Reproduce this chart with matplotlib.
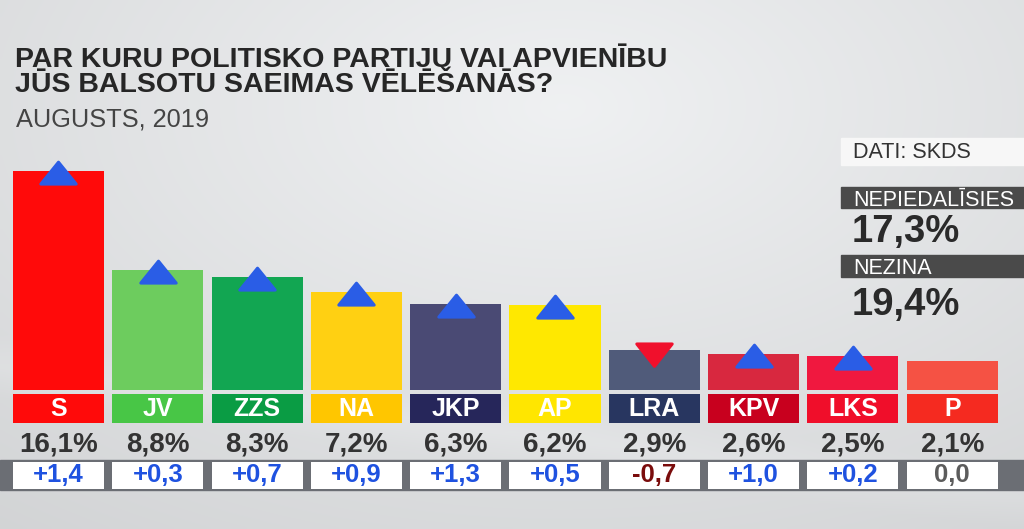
import numpy as np
import matplotlib

matplotlib.use("Agg")
import matplotlib.pyplot as plt
from matplotlib.path import Path
from matplotlib.markers import MarkerStyle

plt.rcParams["font.family"] = ["Liberation Sans", "DejaVu Sans"]

# ---------------------------------------------------------------------------
# Data (SKDS, August 2019)
# ---------------------------------------------------------------------------
parties = ["S", "JV", "ZZS", "NA", "JKP", "AP", "LRA", "KPV", "LKS", "P"]
support = [16.1, 8.8, 8.3, 7.2, 6.3, 6.2, 2.9, 2.6, 2.5, 2.1]
change = [1.4, 0.3, 0.7, 0.9, 1.3, 0.5, -0.7, 1.0, 0.2, 0.0]
bar_colors = ["#ff0a0a", "#6dcc5e", "#12a652", "#ffd012", "#4a4a74",
              "#ffe800", "#505b7a", "#d8283f", "#f0183f", "#f55244"]
label_colors = ["#ff0a0a", "#48c646", "#0a9c44", "#ffc600", "#26265a",
                "#ffe600", "#283660", "#c8001e", "#f00e2a", "#f52a20"]
extra_labels = ["NEPIEDALĪSIES", "NEZINA"]
extra_values = ["17,3%", "19,4%"]

title_lines = ["PAR KURU POLITISKO PARTIJU VAI APVIENĪBU",
               "JŪS BALSOTU SAEIMAS VĒLĒŠANĀS?"]
subtitle = "AUGUSTS, 2019"
source = "DATI: SKDS"

# ---------------------------------------------------------------------------
# Layout helpers (pixel geometry of the 1024x529 canvas)
# ---------------------------------------------------------------------------
W, H = 1024, 529
X0, PITCH = 58.5, 99.3        # centre of first bar, spacing in px
Y0, SCALE = 389.5, 13.57      # baseline in px, px per percent
BAR_W = 91 / PITCH


def v(py):
    """pixel row -> value units on the bar axis"""
    return (Y0 - py) / SCALE


def fx(px):
    return px / W


def fy(py):
    return 1 - py / H


fig = plt.figure(figsize=(W / 100, H / 100), dpi=100)
ax = fig.add_axes([0, 0, 1, 1])
xlim = (-X0 / PITCH, (W - X0) / PITCH)
ylim = (v(H), v(0))

# soft studio background
gx, gy = np.meshgrid(np.linspace(0, 1, 256), np.linspace(0, 1, 140))
d = np.sqrt(((gx - 0.55) / 0.8) ** 2 + ((gy - 0.2) / 0.9) ** 2)
shade = np.clip(0.95 - 0.10 * d, 0.83, 0.955)
streak = 0.02 * np.clip(1 - np.abs((gy - 0.82) - 0.25 * (gx - 0.5)) / 0.06, 0, 1)
shade = shade + streak
bg = np.dstack([shade - 0.012, shade - 0.006, shade])
ax.imshow(bg, extent=(xlim[0], xlim[1], ylim[0], ylim[1]), origin="upper",
          aspect="auto", zorder=0, interpolation="bilinear")

x = np.arange(len(parties))

# bars
ax.bar(x, support, width=BAR_W, color=bar_colors, zorder=2)

# party label boxes
ax.bar(x, v(394) - v(423), bottom=v(423), width=BAR_W,
       color=label_colors, zorder=2)
for xi, name in zip(x, parties):
    ax.text(xi, v(416.5), name, ha="center", va="baseline", color="white",
            fontsize=18, fontweight="bold", zorder=4)

# percentage values
for xi, val in zip(x, support):
    ax.text(xi, v(451), f"{val:.1f}%".replace(".", ","), ha="center",
            va="baseline", color="#333333", fontsize=20, fontweight="bold",
            zorder=4)

# change strip
ax.axhspan(v(490), v(460), color="#6b6e74", zorder=1)
ax.bar(x, v(461.5) - v(488.5), bottom=v(488.5), width=BAR_W,
       color="white", zorder=2)
for xi, c in zip(x, change):
    if c > 0:
        txt, col = f"+{c:.1f}", "#1f52e0"
    elif c < 0:
        txt, col = f"-{abs(c):.1f}", "#7a0c0c"
    else:
        txt, col = f"{c:.1f}", "#5c5c5c"
    ax.text(xi, v(482.5), txt.replace(".", ","), ha="center", va="baseline",
            color=col, fontsize=18.5, fontweight="bold", zorder=4)

# trend triangles on top of bars
up_tri = MarkerStyle(Path([(0, 10), (-19, -13.5), (19, -13.5), (0, 10)],
                          closed=True), joinstyle="round")
down_tri = MarkerStyle(Path([(0, -17), (-19, 7), (19, 7), (0, -17)],
                            closed=True), joinstyle="round")
for xi, val, c in zip(x, support, change):
    if c == 0:
        continue
    marker, col = (up_tri, "#2a5de6") if c > 0 else (down_tri, "#f0102c")
    ax.plot(xi, val, marker=marker, markersize=25.5, color=col,
            markeredgecolor=col, markeredgewidth=2.2, linestyle="none",
            zorder=3)

ax.set_xlim(*xlim)
ax.set_ylim(*ylim)
ax.axis("off")

# ---------------------------------------------------------------------------
# Titles
# ---------------------------------------------------------------------------
fig.text(fx(15), fy(67), title_lines[0], fontsize=20.5, fontweight="bold",
         color="#262626", va="baseline")
fig.text(fx(15), fy(91.5), title_lines[1], fontsize=20.5, fontweight="bold",
         color="#262626", va="baseline")
fig.text(fx(16), fy(127), subtitle, fontsize=18.3, color="#444444",
         va="baseline")

# ---------------------------------------------------------------------------
# Side panel
# ---------------------------------------------------------------------------
def panel_box(top, bottom, color):
    fig.patches.append(plt.Rectangle((fx(841), fy(bottom)), fx(W) - fx(841),
                                     fy(top) - fy(bottom), color=color,
                                     transform=fig.transFigure, zorder=1))


panel_box(138, 165, "#f7f7f7")
fig.text(fx(853), fy(158.5), source, fontsize=15.5, color="#333333",
         va="baseline")

for (top, bottom, base), lab, val in zip([(187, 208, 241.5), (255, 277, 315)],
                                         extra_labels, extra_values):
    panel_box(top, bottom, "#4a4a4a")
    fig.text(fx(853), fy(bottom - 2.5), lab, fontsize=15.5, color="white",
             va="baseline")
    fig.text(fx(852), fy(base), val, fontsize=27.5, fontweight="bold",
             color="#2a2a2a", va="baseline")

fig.savefig("out.png", dpi=100)
